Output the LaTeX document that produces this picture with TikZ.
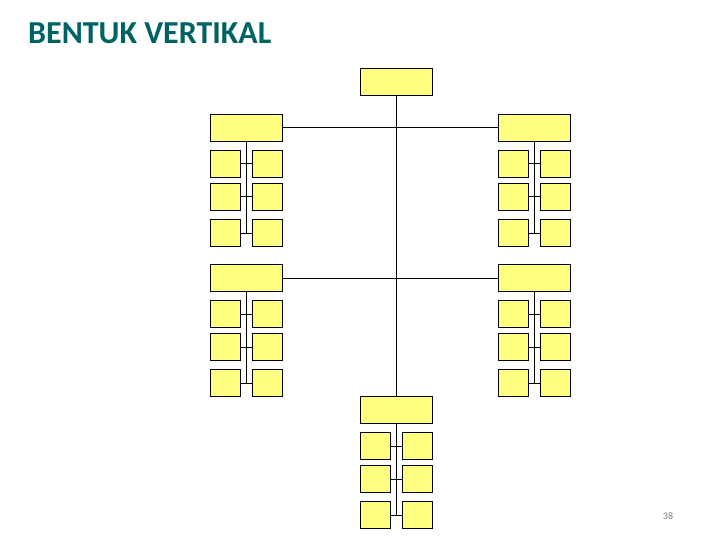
\documentclass[tikz,border=0pt]{standalone}
\usepackage{fontspec}
\setmainfont{Carlito}
\definecolor{boxfill}{RGB}{255,255,128}
\definecolor{titlecol}{RGB}{0,99,99}
\begin{document}
\begin{tikzpicture}[x=1pt,y=-1pt,
  box/.style={draw=black, fill=boxfill, line width=1pt, inner sep=0pt, anchor=north west},
  head/.style={box, minimum width=72pt, minimum height=27pt},
  small/.style={box, minimum width=30pt, minimum height=27pt},
  link/.style={draw=black, line width=1pt}]
\useasboundingbox (0,0) rectangle (720,540);
\node[anchor=base west, inner sep=0pt, text=titlecol, font=\fontsize{32}{32}\selectfont\bfseries] (title) at (28,44) {BENTUK VERTIKAL};
\node[anchor=base, text=gray, font=\fontsize{10}{10}\selectfont] (pg) at (668,519) {38};
\node[head] (T) at (360,68) {};
\foreach \g/\x/\y in {A/210/114, B/498/114, C/210/264, D/498/264, E/360/396} {
  \node[head] (\g) at (\x,\y) {};
  \foreach \r/\dy in {1/36,2/69,3/105} {
    \node[small] (\g L\r) at (\x,\y+\dy) {};
    \node[small] (\g R\r) at (\x+42,\y+\dy) {};
    \draw[link] (\g L\r.east) -- (\g R\r.west);
  }
  \draw[link] (\g.south) -- (\g L3.east -| \g.south);
}
\draw[link] (T.south) -- (E.north);
\draw[link] (A.east) -- (B.west);
\draw[link] (C.east) -- (D.west);
\end{tikzpicture}
\end{document}
